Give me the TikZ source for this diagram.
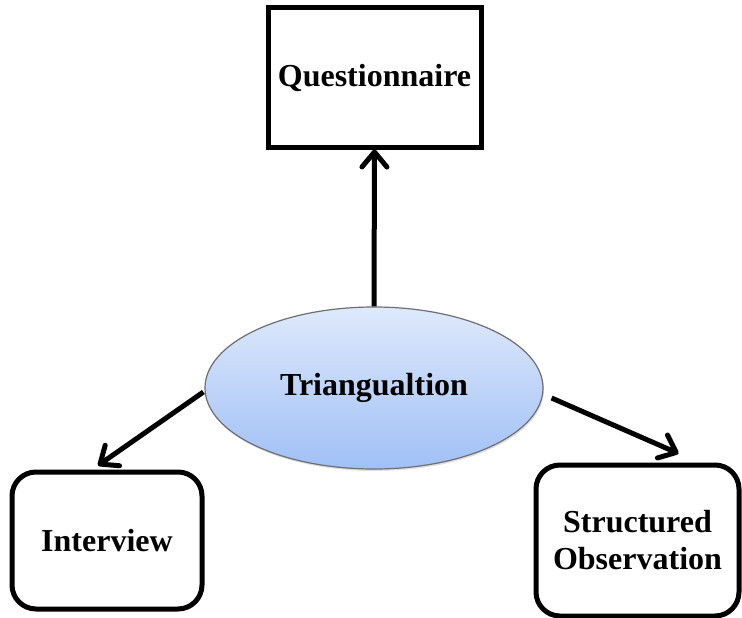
\documentclass[tikz,border=0pt]{standalone}
\usepackage{fontspec}
\setmainfont{Liberation Serif}
\usetikzlibrary{arrows.meta,shadows,shapes.geometric}
\definecolor{elltop}{RGB}{222,233,251}
\definecolor{ellbot}{RGB}{160,192,246}
\definecolor{ellborder}{RGB}{110,110,115}
\tikzset{
  lbl/.style={font=\fontsize{32}{37}\selectfont\bfseries, align=center, text=black},
  sqbox/.style={lbl, draw=black, line width=5pt, rectangle, inner sep=0pt},
  rbox/.style={lbl, draw=black, line width=5pt, rectangle, rounded corners=24pt, inner sep=0pt},
  hub/.style={lbl, ellipse, draw=ellborder, line width=1.2pt, top color=elltop, bottom color=ellbot,
    inner sep=0pt, drop shadow={opacity=0.25, shadow xshift=1pt, shadow yshift=-2pt}},
  arr/.style={line width=5pt, -{Straight Barb[length=15pt,width=25pt,line width=5pt,round]}}
}
\begin{document}
\begin{tikzpicture}[x=1pt,y=-1pt]
\useasboundingbox (0,0) rectangle (742,618);
\node[sqbox, minimum width=213pt, minimum height=139pt] (q) at (374.5,77.5) {Questionnaire};
\node[hub, minimum width=338pt, minimum height=162pt] (tri) at (374,388) {Triangualtion};
\node[rbox, minimum width=190pt, minimum height=137pt] (iv) at (107,540.5) {Interview};
\node[rbox, minimum width=203pt, minimum height=151pt] (obs) at (637.5,540.5) {Structured\\Observation};
\draw[arr] (tri.north) -- (q.south);
\draw[arr] ([xshift=-1pt,yshift=-4pt]tri.west) -- ([xshift=-9pt,yshift=4pt]iv.north);
\draw[arr] ([xshift=8pt,yshift=-10pt]tri.east) -- ([xshift=41pt,yshift=9pt]obs.north);
\end{tikzpicture}
\end{document}
